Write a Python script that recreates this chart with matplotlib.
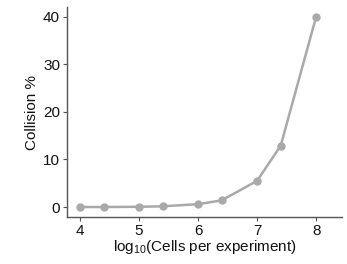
import matplotlib
matplotlib.use("Agg")
import matplotlib.pyplot as plt

plt.rcParams['font.family'] = ['Liberation Sans', 'DejaVu Sans']
plt.rcParams['mathtext.fontset'] = 'custom'
plt.rcParams['mathtext.rm'] = 'Liberation Sans'
plt.rcParams['mathtext.it'] = 'Liberation Sans'

# log10 of cells per experiment and collision percentage
log_cells = [4.0, 4.4, 5.0, 5.4, 6.0, 6.4, 7.0, 7.4, 8.0]
collision = [0.0, 0.0, 0.05, 0.15, 0.6, 1.4, 5.5, 12.9, 40.0]
x_ticks = [4, 5, 6, 7, 8]
y_ticks = [0, 10, 20, 30, 40]

fig = plt.figure(figsize=(3.47, 2.64), dpi=100)
ax = fig.add_axes([0.193, 0.178, 0.793, 0.795])

ax.plot(log_cells, collision, color='#a9a9a9', lw=1.8, marker='o', ms=5,
        mec='#a9a9a9', mfc='#a9a9a9')

ax.set_xlim(3.78, 8.44)
ax.set_ylim(-2.1, 42)
ax.set_xticks(x_ticks)
ax.set_yticks(y_ticks)

for s in ['top', 'right']:
    ax.spines[s].set_visible(False)
for s in ['left', 'bottom']:
    ax.spines[s].set_color('#555555')
    ax.spines[s].set_linewidth(1.0)

ax.tick_params(length=3, width=0.8, color='#555555', labelsize=11, labelcolor='#111111', pad=2)

ax.set_xlabel('log$_{10}$(Cells per experiment)', fontsize=11, color='#111111', labelpad=0)
ax.set_ylabel('Collision %', fontsize=11, color='#111111', labelpad=3)

fig.savefig('out.png', dpi=100)
